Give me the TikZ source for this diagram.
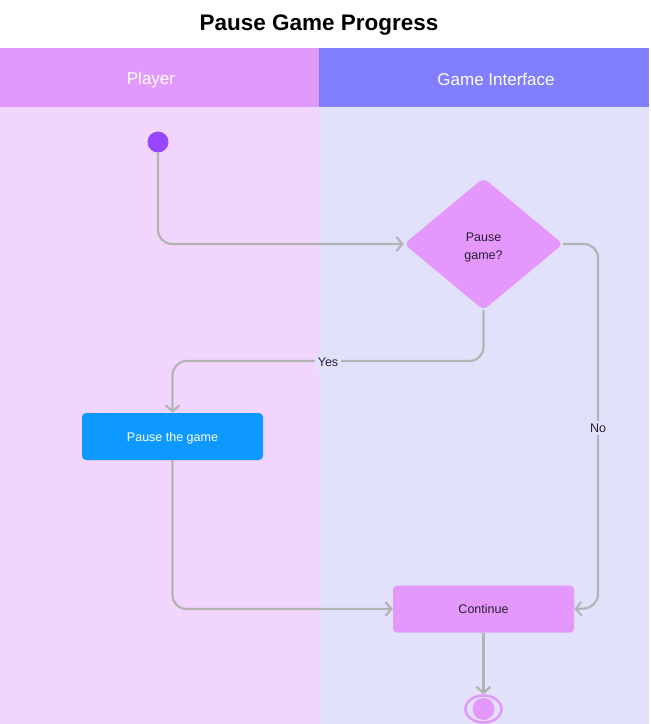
\documentclass[tikz,border=0pt]{standalone}
\usepackage{fontspec}
\setmainfont{Liberation Sans}
\usetikzlibrary{shapes.geometric,arrows.meta}
\definecolor{hdrA}{RGB}{225,154,252}
\definecolor{hdrB}{RGB}{128,128,255}
\definecolor{laneA}{RGB}{241,213,252}
\definecolor{laneB}{RGB}{225,225,252}
\definecolor{startc}{RGB}{151,71,255}
\definecolor{pinkn}{RGB}{228,152,252}
\definecolor{bluen}{RGB}{13,153,255}
\definecolor{edgec}{RGB}{180,180,180}
\definecolor{txtc}{RGB}{40,30,50}
\begin{document}
\begin{tikzpicture}[x=1pt,y=-1pt,
  conn/.style={draw=edgec,line width=2.2pt,rounded corners=14pt,-{Straight Barb[length=6pt,width=14pt,line width=2.2pt]}},
  proc/.style={rectangle,rounded corners=4pt,minimum width=181pt,minimum height=47pt,inner sep=0pt,text depth=0pt,font=\fontsize{12.5}{15}\selectfont},
  lbl/.style={fill=laneB,inner sep=2.5pt,font=\fontsize{12.5}{15}\selectfont,text=txtc}]
\useasboundingbox (0,0) rectangle (651,724);
\fill[white] (0,0) rectangle (651,724);
\fill[laneA] (0,107) rectangle (319,724);
\fill[laneB] (319,107) rectangle (649,724);
\fill[hdrA] (0,48) rectangle (319,107);
\fill[hdrB] (319,48) rectangle (649,107);
\node (title) at (319,25) {\fontsize{22.5}{26}\selectfont\bfseries Pause Game Progress};
\node[text=white,font=\fontsize{17}{20}\selectfont] (h1) at (151,80) {Player};
\node[text=white,font=\fontsize{17}{20}\selectfont] (h2) at (496,79.5) {Game Interface};
\node[circle,fill=startc,minimum size=21pt,inner sep=0pt] (start) at (158,142) {};
\node[diamond,fill=pinkn,rounded corners=5pt,aspect=1.2,minimum width=159pt,minimum height=132pt,inner sep=0pt,text=txtc,font=\fontsize{12.5}{18}\selectfont] (dec) at (483.5,244) {\raisebox{-3pt}[\height][\depth]{\begin{tabular}{@{}c@{}}Pause\\game?\end{tabular}}};
\node[proc,fill=bluen,text=white] (pause) at (172.5,436.5) {Pause the game};
\node[proc,fill=pinkn,text=txtc] (cont) at (483.5,609) {Continue};
\node[ellipse,draw=pinkn,line width=2.5pt,minimum width=36pt,minimum height=27pt,inner sep=0pt] (end) at (483.5,709) {};
\fill[pinkn] (end.center) circle (11pt);
\draw[conn] (start.south) |- (dec.west);
\draw[conn] (dec.south) |- (pause.north |- 0,361) -- (pause.north);
\node[lbl] (yes) at (328,362) {Yes};
\draw[conn] (dec.east) -| (598,608) -- (cont.east);
\node[lbl] (no) at (598,428) {No};
\draw[conn] (pause.south) |- (cont.west);
\draw[conn] (cont.south) -- (end.north);
\end{tikzpicture}
\end{document}
